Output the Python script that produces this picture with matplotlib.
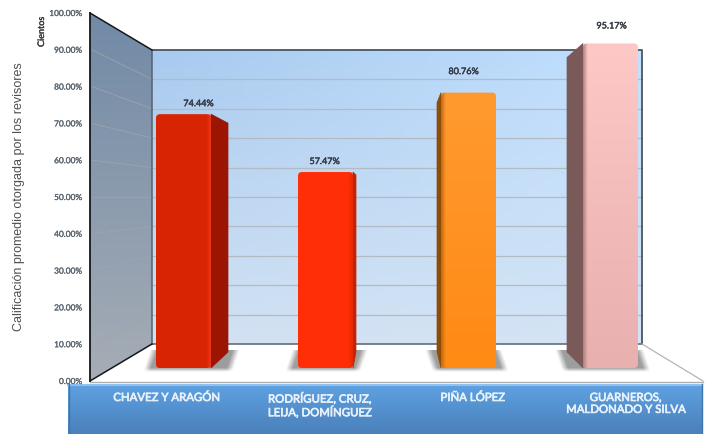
import matplotlib
matplotlib.use('Agg')
import matplotlib.pyplot as plt
import matplotlib.patches as mpatches
import matplotlib.patheffects as pe
from matplotlib.colors import LinearSegmentedColormap
import numpy as np

# data
categories = ['CHAVEZ Y ARAGÓN', 'RODRÍGUEZ, CRUZ,\nLEIJA, DOMÍNGUEZ', 'PIÑA LÓPEZ', 'GUARNEROS,\nMALDONADO Y SILVA']
values = [74.44, 57.47, 80.76, 95.17]
value_labels = ['74.44%', '57.47%', '80.76%', '95.17%']
y_ticks = [0, 10, 20, 30, 40, 50, 60, 70, 80, 90, 100]
y_label = 'Calificación promedio otorgada por los revisores'
unit_label = 'Cientos'

W, H = 707, 434
# bar styling, one per bar
face_colors = ['#d92404', '#ff2e06', '#ff9a30', '#fdc8c6']
face_bottom = ['#d92404', '#ff2e06', '#ff8a14', '#e8b0ae']
side_colors = ['#9c1402', '#c42203', '#8f4c06', '#7a5a58']
edge_colors = ['#f0381a', '#e02a05', '#b8650f', '#a87a78']
side_depth = [17, 3, -4, -16]
side_drop = [9, 3, 10, 14]
bar_left = [156, 298, 441, 583]
bar_width = 55
label_dx = [15, -1, -5, 1]
label_gap = [9.5, 9.5, 20, 16.5]


def px_axes(x0, y0, x1, y1):
    # axes placed in reference pixels, y measured from the top
    return fig.add_axes([x0 / W, 1 - y1 / H, (x1 - x0) / W, (y1 - y0) / H])


def gradient(ax, colors, extent, clip=None):
    cmap = LinearSegmentedColormap.from_list('g', colors)
    g = np.linspace(0, 1, 256).reshape(-1, 1)
    im = ax.imshow(g, cmap=cmap, extent=extent, aspect='auto', origin='upper', zorder=1)
    if clip is not None:
        im.set_clip_path(clip)
    return im


def bold(color, width=0.3):
    # the blurry bold of the original, drawn as a thin stroke
    return [pe.withStroke(linewidth=width, foreground=color)]


fig = plt.figure(figsize=(W / 100, H / 100), dpi=100, facecolor='white')

# canvas for the 3D frame, in pixels
canvas = px_axes(0, 0, W, H)
canvas.set_xlim(0, W)
canvas.set_ylim(H, 0)
canvas.axis('off')

FRONT_0, FRONT_100 = 381, 13
BACK_0, BACK_100 = 344, 50
WALL_L, WALL_R, BACK_R = 90, 152, 642


def front_y(p):
    return FRONT_0 + (FRONT_100 - FRONT_0) * p / 100


def back_y(p):
    return BACK_0 + (BACK_100 - BACK_0) * p / 100


# back wall, blue and lighter to the right
wall = np.zeros((64, 64, 3))
top_l, top_r = np.array([0xa8, 0xca, 0xef]) / 255, np.array([0xc2, 0xe0, 0xff]) / 255
bot_l, bot_r = np.array([0xd2, 0xe1, 0xf2]) / 255, np.array([0xd4, 0xe4, 0xf5]) / 255
for i in range(64):
    for j in range(64):
        a, b = i / 63, j / 63
        wall[i, j] = (1 - a) * ((1 - b) * top_l + b * top_r) + a * ((1 - b) * bot_l + b * bot_r)
canvas.imshow(wall, extent=(WALL_R, BACK_R, BACK_0, BACK_100), aspect='auto', zorder=1)

# side wall
side_poly = mpatches.Polygon([(WALL_L, FRONT_100), (WALL_R, BACK_100), (WALL_R, BACK_0), (WALL_L, FRONT_0)],
                             closed=True, transform=canvas.transData, facecolor='none', edgecolor='none')
canvas.add_patch(side_poly)
gradient(canvas, ['#718aa6', '#a6adb6'], (WALL_L, WALL_R, FRONT_0, FRONT_100), clip=side_poly)

# grid lines on both walls
for t in y_ticks[1:-1]:
    canvas.plot([WALL_R, BACK_R], [back_y(t), back_y(t)], color='#b4bac2', lw=0.9, zorder=2)
    canvas.plot([WALL_L + 2, WALL_R], [front_y(t), back_y(t)], color='#a0a6ac', lw=0.5, zorder=2)

# frame lines
canvas.plot([WALL_R, BACK_R, BACK_R], [BACK_100, BACK_100, BACK_0], color='#4a5560', lw=1.3, zorder=3)
canvas.plot([WALL_R, WALL_R], [BACK_100, BACK_0], color='#56626e', lw=1.1, zorder=3)
canvas.plot([WALL_R, BACK_R], [BACK_0, BACK_0], color='#56626e', lw=1.1, zorder=3)
canvas.plot([WALL_L, WALL_R], [FRONT_100, BACK_100], color='#14181c', lw=1.1, zorder=3)
canvas.plot([WALL_L, WALL_R], [FRONT_0, BACK_0], color='#14181c', lw=1.1, zorder=3)
canvas.plot([BACK_R, 703], [BACK_0, FRONT_0], color='#b5b5b5', lw=0.9, zorder=3)
canvas.plot([WALL_L, 703], [FRONT_0 + 0.5, FRONT_0 + 0.5], color='#aeaeae', lw=1, zorder=3)

# value axis on the front edge of the side wall
ax_y = px_axes(WALL_L, FRONT_100, WALL_L + 1, FRONT_0)
ax_y.patch.set_alpha(0)
ax_y.set_ylim(0, 100)
ax_y.set_xticks([])
ax_y.set_yticks(y_ticks)
ax_y.set_yticklabels([f'{t:.2f}%' for t in y_ticks], fontsize=6, color='#5c6670', fontfamily='Lato',
                     path_effects=bold('#5c6670', 0.2))
ax_y.tick_params(axis='y', length=0, pad=5.5)
for s in ['top', 'right', 'bottom']:
    ax_y.spines[s].set_visible(False)
ax_y.spines['left'].set_color('#14181c')
ax_y.spines['left'].set_linewidth(1.3)

# bars: same scale as the front of the bars, with room below zero for the shadows
bar_0, bar_px = 368, 3.41
y_floor = -3
ax_bar = px_axes(0, bar_0 - 100 * bar_px, W, bar_0 - y_floor * bar_px)
ax_bar.patch.set_alpha(0)
ax_bar.axis('off')
ax_bar.set_zorder(3)
y_unit = 1 / bar_px

for i, v in enumerate(values):
    x0, x1 = bar_left[i], bar_left[i] + bar_width
    d = side_depth[i]
    edge = x1 if d > 0 else x0
    # floor shadow, a soft slanted box around the foot of the bar
    sx0, sx1 = min(x0, edge + d) - 17, max(x1, edge + d) + 17
    sy0, sy1 = -4, 18
    lean = 6 if d > 0 else -6
    xs = np.linspace(sx0, sx1, 140)
    ys = np.linspace(sy0, sy1, 44)
    shadow = np.zeros((44, 140, 4))
    shadow[..., :3] = 0.55
    for r, y in enumerate(ys):
        off = lean * (y / sy1 - 0.5)
        dist = np.minimum(xs - (sx0 + 8 + off), (sx1 - 8 + off) - xs)
        shadow[r, :, 3] = 0.85 * np.clip(dist / 7, 0, 1) * np.clip((y - sy0) / 4, 0, 1)
    ax_bar.imshow(shadow, extent=(sx0, sx1, sy0 * y_unit, sy1 * y_unit), origin='lower', aspect='auto', zorder=1)
    # side face goes back towards the wall
    ax_bar.add_patch(mpatches.Polygon(
        [(edge, 0), (edge + d, 16 * y_unit), (edge + d, v - side_drop[i] * y_unit), (edge, v)],
        closed=True, facecolor=side_colors[i], edgecolor=side_colors[i], lw=0.5, zorder=2))
    # front face with rounded corners and vertical shading
    box = mpatches.FancyBboxPatch((x0, 0), bar_width, v, boxstyle='round,pad=0,rounding_size=4',
                                  mutation_aspect=y_unit, facecolor='none', edgecolor='none', zorder=3)
    ax_bar.add_patch(box)
    cmap = LinearSegmentedColormap.from_list('f', [face_colors[i], face_bottom[i]])
    im = ax_bar.imshow(np.linspace(0, 1, 128).reshape(-1, 1), cmap=cmap, extent=(x0, x1, 0, v),
                       aspect='auto', origin='upper', zorder=3)
    im.set_clip_path(box)
    # soft strip along the edge next to the side face
    strip = np.zeros((1, 16, 4))
    strip[..., :3] = matplotlib.colors.to_rgb(edge_colors[i])
    strip[..., 3] = np.linspace(0.9, 0, 16) if d < 0 else np.linspace(0, 0.9, 16)
    sw = 5
    sext = (x0, x0 + sw, 0, v) if d < 0 else (x1 - sw, x1, 0, v)
    st = ax_bar.imshow(strip, extent=sext, aspect='auto', zorder=4)
    st.set_clip_path(box)
    ax_bar.text(x0 + bar_width / 2 + label_dx[i], v + (label_gap[i] - 3.5) * y_unit, value_labels[i], ha='center',
                va='bottom', fontsize=6.5, color='#333a44', fontfamily='Lato', path_effects=bold('#333a44'),
                clip_on=False)
ax_bar.set_xlim(0, W)
ax_bar.set_ylim(y_floor, 100)

# category band
gradient(canvas, ['#5ea2e2', '#4a80ba'], (68, 702, 434, 384))
canvas.plot([68, 702], [384.5, 384.5], color='#8fc0ee', lw=1.5, zorder=4)
canvas.plot([68.5, 68.5], [384, 434], color='#3f75ad', lw=1, zorder=4)
canvas.plot([701.5, 701.5], [384, 434], color='#3f75ad', lw=1, zorder=4)
canvas.set_xlim(0, W)
canvas.set_ylim(H, 0)

ax_cat = px_axes(90, 384, 702, 434)
ax_cat.patch.set_alpha(0)
ax_cat.set_xlim(-0.5, 3.5)
ax_cat.set_ylim(0, 1)
ax_cat.axis('off')
ax_cat.set_zorder(4)
for i, c in enumerate(categories):
    ax_cat.text(i, 0.84, c, ha='center', va='top', fontsize=8.2, color='#e8f1fb', fontfamily='Lato',
                linespacing=1.1, path_effects=bold('#e8f1fb', 0.5))

# axis titles
fig.text(19 / W, 1 - 197 / H, y_label, rotation=90, ha='center', va='center', fontsize=9,
         color='#4f4f4f', fontfamily='Liberation Sans')
fig.text(41.5 / W, 1 - 32 / H, unit_label, rotation=90, ha='center', va='center', fontsize=6.5,
         color='#333333', fontfamily='Lato', path_effects=bold('#333333', 0.2))

fig.savefig('out.png', dpi=100)
